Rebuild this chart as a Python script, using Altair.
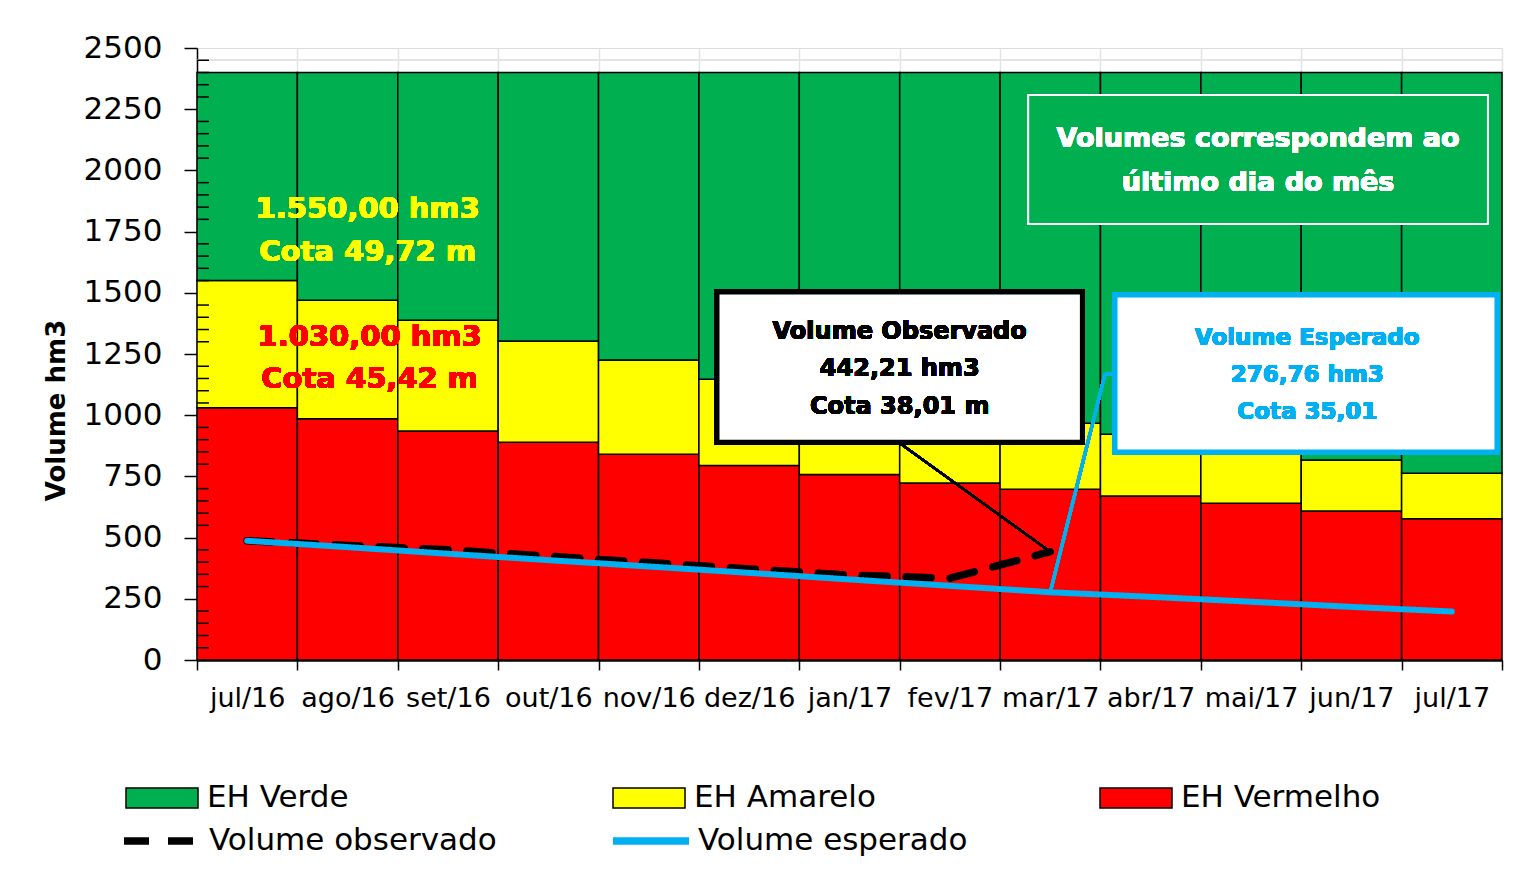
import json
import altair as alt
import pandas as pd

# ---------------- data ----------------
months = ["jul/16", "ago/16", "set/16", "out/16", "nov/16", "dez/16", "jan/17",
          "fev/17", "mar/17", "abr/17", "mai/17", "jun/17", "jul/17"]
red_top = [1030, 985, 935, 890, 840, 795, 758, 723, 697, 670, 640, 609, 577]
yellow_top = [1550, 1470, 1388, 1303, 1225, 1147, 1080, 1020, 967, 922, 870, 817, 763]
green_top = [2400, 2400, 2400, 2400, 2400, 2400, 2400, 2400, 2400, 2400, 2400, 2400, 2400]
observed = [487, 468, 450, 424, 398, 372, 347, 334, 442.21]
expected = [487, 461, 434, 408, 382, 356, 329, 303, 276.76, 258, 238, 217, 198]

zone_names = ["EH Verde", "EH Amarelo", "EH Vermelho"]
zone_colors = ["#00B050", "#FFFF00", "#FF0000"]
line_names = ["Volume observado", "Volume esperado"]
line_colors = ["#000000", "#00B0F0"]
y_ticks = [0, 250, 500, 750, 1000, 1250, 1500, 1750, 2000, 2250, 2500]
minor_ticks = [v for v in range(50, 2500, 50) if v % 250 != 0]

# ---------------- tables ----------------
rows = []
for i, m in enumerate(months):
    rows.append({"x0": i, "x1": i + 1, "y0": 0, "y1": red_top[i], "zona": "EH Vermelho"})
    rows.append({"x0": i, "x1": i + 1, "y0": red_top[i], "y1": yellow_top[i], "zona": "EH Amarelo"})
    rows.append({"x0": i, "x1": i + 1, "y0": yellow_top[i], "y1": green_top[i], "zona": "EH Verde"})
bars_df = pd.DataFrame(rows)

obs_df = pd.DataFrame({"x": [i + 0.5 for i in range(len(observed))], "v": observed,
                       "serie": "Volume observado"})
exp_df = pd.DataFrame({"x": [i + 0.5 for i in range(len(expected))], "v": expected,
                       "serie": "Volume esperado"})
minor_df = pd.DataFrame({"v": minor_ticks})

FONT = "DejaVu Sans"
n = len(months)
x_scale = alt.Scale(domain=[0, n], nice=False, zero=False)
y_scale = alt.Scale(domain=[0, 2500], nice=False)

label_expr = "datum.value % 1 == 0 ? '' : " + json.dumps(months) + "[floor(datum.value)]"
x_axis = alt.Axis(
    values=[k * 0.5 for k in range(2 * n + 1)],
    labelExpr=label_expr, title=None,
    tickOpacity={"condition": {"test": "datum.value % 1 == 0", "value": 1}, "value": 0},
    gridOpacity={"condition": {"test": "datum.value % 1 == 0", "value": 1}, "value": 0},
    grid=True, gridColor="#e4e4e4", gridWidth=1.5,
    tickSize=10, tickWidth=1.5, tickColor="black",
    domainColor="black", domainWidth=2.5,
    labelFont=FONT, labelFontSize=27, labelColor="black", labelPadding=15,
    labelOverlap=False, labelFlush=False,
)
y_axis = alt.Axis(
    values=y_ticks, format="d", title="Volume hm3", grid=False,
    tickSize=13, tickWidth=1.5, tickColor="black",
    domainColor="black", domainWidth=1.5,
    labelFont=FONT, labelFontSize=31, labelColor="black", labelPadding=22,
    labelOverlap=False,
    titleFont=FONT, titleFontSize=26, titleFontWeight="bold", titleColor="black",
    titleX=-141, titleY=362, titleAlign="center", titleBaseline="middle", titleAngle=270,
)

fill_legend = alt.Legend(
    title=None, orient="none", legendX=-72, legendY=713, direction="horizontal",
    columns=3, gridAlign="all", columnPadding=203,
    symbolType="M-1,-0.28H1V0.28H-1Z", symbolSize=5184,
    symbolStrokeColor="black", symbolStrokeWidth=1.5,
    labelFont=FONT, labelFontSize=31, labelColor="black", labelOffset=8, labelLimit=500,
)
stroke_legend = alt.Legend(
    title=None, orient="none", legendX=-77, legendY=751, direction="horizontal",
    columns=2, gridAlign="all", columnPadding=101,
    symbolType="stroke", symbolSize=5776, symbolStrokeWidth=7.5,
    labelFont=FONT, labelFontSize=31, labelColor="black", labelOffset=5, labelLimit=500,
)

bars = alt.Chart(bars_df).mark_rect(stroke="black", strokeWidth=1.5, opacity=1).encode(
    x=alt.X("x0:Q", scale=x_scale, axis=x_axis),
    x2="x1:Q",
    y=alt.Y("y0:Q", scale=y_scale, axis=y_axis),
    y2="y1:Q",
    fill=alt.Fill("zona:N", scale=alt.Scale(domain=zone_names, range=zone_colors),
                  legend=fill_legend),
)

base = alt.Chart(minor_df)

gray_line = base.mark_rule(color="#e4e4e4", strokeWidth=1.5).encode(
    y=alt.datum(2450), x=alt.value(0), x2=alt.value(1305))

minor = alt.Chart(minor_df).mark_rule(color="black", strokeWidth=1.5).encode(
    y=alt.Y("v:Q", scale=y_scale, title="Volume hm3"),
    x=alt.value(0), x2=alt.value(12),
)

stroke_enc = alt.Stroke("serie:N", scale=alt.Scale(domain=line_names, range=line_colors),
                        legend=stroke_legend)
dash_enc = alt.StrokeDash("serie:N", scale=alt.Scale(domain=line_names, range=[[25, 19], [1, 0]]),
                          legend=stroke_legend)

obs_line = alt.Chart(obs_df).mark_line(strokeWidth=7.5, strokeCap="round").encode(
    x=alt.X("x:Q", scale=x_scale, axis=x_axis),
    y=alt.Y("v:Q", scale=y_scale, title="Volume hm3"),
    stroke=stroke_enc, strokeDash=dash_enc,
)
exp_line = alt.Chart(exp_df).mark_line(strokeWidth=6, strokeCap="round").encode(
    x=alt.X("x:Q", scale=x_scale, axis=x_axis),
    y=alt.Y("v:Q", scale=y_scale, title="Volume hm3"),
    stroke=stroke_enc, strokeDash=dash_enc,
)

# leader lines
obs_leader = base.mark_rule(color="black", strokeWidth=2).encode(
    x=alt.datum(7.0), x2=alt.datum(8.5), y=alt.datum(886), y2=alt.datum(observed[-1]))
exp_leader1 = base.mark_rule(color="#00B0F0", strokeWidth=3).encode(
    x=alt.datum(9.145), x2=alt.datum(9.045), y=alt.datum(1168), y2=alt.datum(1168))
exp_leader2 = base.mark_rule(color="#00B0F0", strokeWidth=3).encode(
    x=alt.datum(9.045), x2=alt.datum(8.5), y=alt.datum(1168), y2=alt.datum(expected[8]))

# boxes
obs_box = base.mark_rect(fill="white", stroke="black", strokeWidth=5).encode(
    x=alt.datum(5.18), x2=alt.datum(8.82), y=alt.datum(890), y2=alt.datum(1503))
exp_box = base.mark_rect(fill="white", stroke="#00B0F0", strokeWidth=5).encode(
    x=alt.datum(9.145), x2=alt.datum(12.95), y=alt.datum(850), y2=alt.datum(1491))
note_box = base.mark_rect(fill="#00B050", stroke="white", strokeWidth=2).encode(
    x=alt.datum(8.28), x2=alt.datum(12.86), y=alt.datum(1781), y2=alt.datum(2308))


def label(txt, x, y, color, size, lh):
    return base.mark_text(text=txt, lineBreak="\n", lineHeight=lh, font=FONT,
                          fontSize=size, fontWeight="bold", color=color,
                          align="center", baseline="middle").encode(
        x=alt.datum(x), y=alt.datum(y))


t_yellow = label("1.550,00 hm3\nCota 49,72 m", 1.70, 1842, "#FFFF00", 29, 43)
t_red = label("1.030,00 hm3\nCota 45,42 m", 1.72, 1319, "#FF0000", 29, 42)
t_obs = label("Volume Observado\n442,21 hm3\nCota 38,01 m", 7.0, 1340, "black", 24, 37.5)
t_exp = label("Volume Esperado\n276,76 hm3\nCota 35,01", 11.06, 1315, "#00B0F0", 23, 37)
t_note = label("Volumes correspondem ao\núltimo dia do mês", 10.57, 2128, "white", 27, 44)

chart = alt.layer(
    bars, gray_line, minor, obs_line, exp_line,
    obs_leader, exp_leader1, exp_leader2,
    obs_box, exp_box, note_box,
    t_yellow, t_red, t_obs, t_exp, t_note,
).properties(
    width=1305, height=612,
    autosize=alt.AutoSizeParams(type="none"),
    padding={"left": 189, "top": 40, "right": 5, "bottom": 210},
).configure_view(stroke=None).configure(font=FONT)

chart.save("out.html", embed_options={"renderer": "svg", "actions": False})
